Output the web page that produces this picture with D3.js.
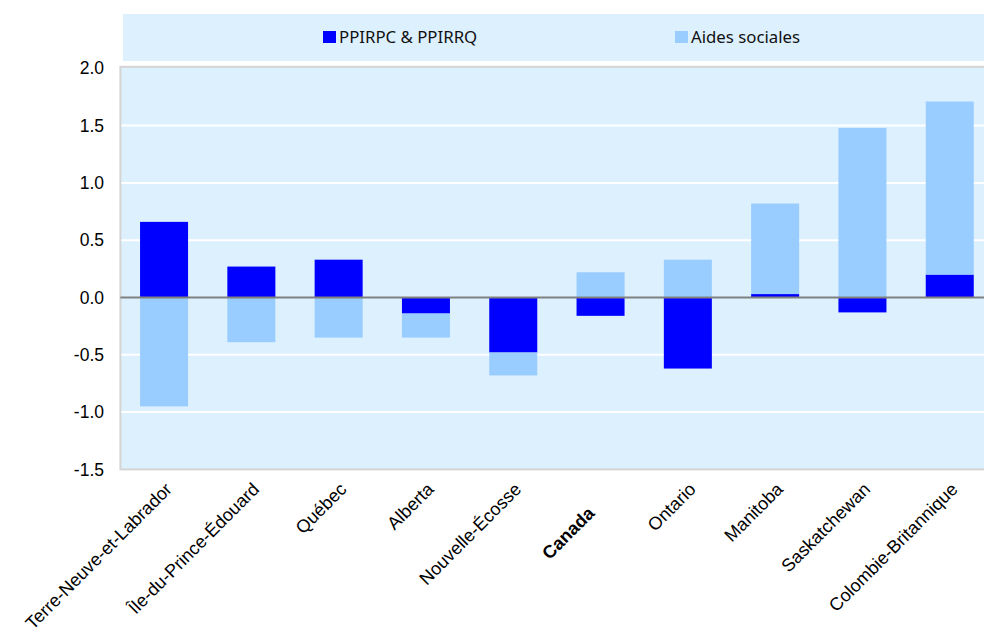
<!DOCTYPE html>
<html>
<head>
<meta charset="utf-8">
<script src="https://cdn.jsdelivr.net/npm/d3@7"></script>
<style>
  html, body { margin: 0; padding: 0; background: #ffffff; overflow: hidden; }
  svg { display: block; }
</style>
</head>
<body>
<svg id="chart" width="984" height="632"></svg>
<script>
// Provinces, in display order
const categories = [
  "Terre-Neuve-et-Labrador", "Île-du-Prince-Édouard", "Québec", "Alberta",
  "Nouvelle-Écosse", "Canada", "Ontario", "Manitoba", "Saskatchewan",
  "Colombie-Britannique"
];
// Contribution of public pension plans (CPP / QPP)
const ppirpc = [0.66, 0.27, 0.33, -0.14, -0.48, -0.16, -0.62, 0.03, -0.13, 0.20];
// Contribution of social assistance
const aides = [-0.95, -0.39, -0.35, -0.21, -0.20, 0.22, 0.33, 0.79, 1.48, 1.51];
const seriesNames = ["PPIRPC & PPIRRQ", "Aides sociales"];
const yTicks = [-1.5, -1.0, -0.5, 0.0, 0.5, 1.0, 1.5, 2.0];

const colors = { ppirpc: "#0000ff", aides: "#99ccff" };
const bg = "#ddf0fe";

const svg = d3.select("#chart");

const plot = { left: 120.4, right: 993.4, top: 68.3, bottom: 469.4 };

const x = d3.scaleBand()
  .domain(categories)
  .range([plot.left, plot.right])
  .paddingInner(0.45)
  .paddingOuter(0.225);

const y = d3.scaleLinear()
  .domain([-1.5, 2.0])
  .range([plot.bottom, plot.top]);

// Legend panel
const legend = svg.append("g");
legend.append("rect")
  .attr("x", 123).attr("y", 14)
  .attr("width", 984 - 123).attr("height", 47)
  .attr("fill", bg);
const legendItems = [
  { name: seriesNames[0], color: colors.ppirpc, x: 323 },
  { name: seriesNames[1], color: colors.aides, x: 675 }
];
legendItems.forEach(d => {
  legend.append("rect")
    .attr("x", d.x).attr("y", 31)
    .attr("width", 13).attr("height", 12)
    .attr("fill", d.color);
  legend.append("text")
    .attr("x", d.x + 16).attr("y", 43)
    .attr("font-family", "'Noto Sans', 'Open Sans', sans-serif")
    .attr("font-size", 16.8)
    .attr("fill", "#111")
    .text(d.name);
});

// Plot background
svg.append("rect")
  .attr("x", plot.left).attr("y", plot.top - 1.5)
  .attr("width", plot.right - plot.left).attr("height", plot.bottom - plot.top + 1.5)
  .attr("fill", bg)
  .attr("stroke", "#d4d4d4")
  .attr("stroke-width", 2);

// Gridlines
svg.append("g")
  .selectAll("line")
  .data(yTicks.filter(t => t !== 0 && t !== -1.5 && t !== 2.0))
  .join("line")
  .attr("x1", plot.left + 1).attr("x2", plot.right)
  .attr("y1", d => y(d)).attr("y2", d => y(d))
  .attr("stroke", "#ffffff")
  .attr("stroke-width", 2);

// Diverging stack: CPP/QPP closest to zero, social assistance beyond it
const table = categories.map((c, i) => ({ cat: c, ppirpc: ppirpc[i], aides: aides[i] }));
const stack = d3.stack()
  .keys(["ppirpc", "aides"])
  .offset(d3.stackOffsetDiverging);
const layers = stack(table);

svg.append("g")
  .selectAll("g")
  .data(layers)
  .join("g")
  .attr("fill", d => colors[d.key])
  .selectAll("rect")
  .data(d => d)
  .join("rect")
  .attr("x", d => x(d.data.cat))
  .attr("width", x.bandwidth())
  .attr("y", d => y(Math.max(d[0], d[1])))
  .attr("height", d => Math.abs(y(d[0]) - y(d[1])));

// Zero line
svg.append("line")
  .attr("x1", plot.left).attr("x2", plot.right)
  .attr("y1", y(0)).attr("y2", y(0))
  .attr("stroke", "#808080")
  .attr("stroke-width", 2);

// Y axis labels (plain hyphen for negatives)
const fmt = d3.format(".1f");
const yAxis = d3.axisLeft(y)
  .tickValues(yTicks)
  .tickFormat(d => fmt(d).replace("\u2212", "-"))
  .tickSize(0)
  .tickPadding(0);
const yg = svg.append("g")
  .attr("transform", `translate(${104},0)`)
  .call(yAxis);
yg.select(".domain").remove();
yg.selectAll("text")
  .attr("font-family", "'Liberation Sans', Arial, sans-serif")
  .attr("font-size", 17.5)
  .attr("fill", "#000");

// X axis labels, rotated
const xAxis = d3.axisBottom(x).tickSize(0).tickPadding(0);
const xg = svg.append("g")
  .attr("transform", `translate(0,${plot.bottom})`)
  .call(xAxis);
xg.select(".domain").remove();
xg.selectAll(".tick text")
  .attr("font-family", "'Liberation Sans', Arial, sans-serif")
  .attr("font-size", 18)
  .attr("fill", "#000")
  .attr("font-weight", d => d === "Canada" ? "bold" : "normal")
  .attr("text-anchor", "end")
  .attr("y", 0)
  .attr("dy", null)
  .attr("transform", d => d === "Canada"
    ? "translate(-5,45) rotate(-45)"
    : "translate(9,21) rotate(-45)");
</script>
</body>
</html>
